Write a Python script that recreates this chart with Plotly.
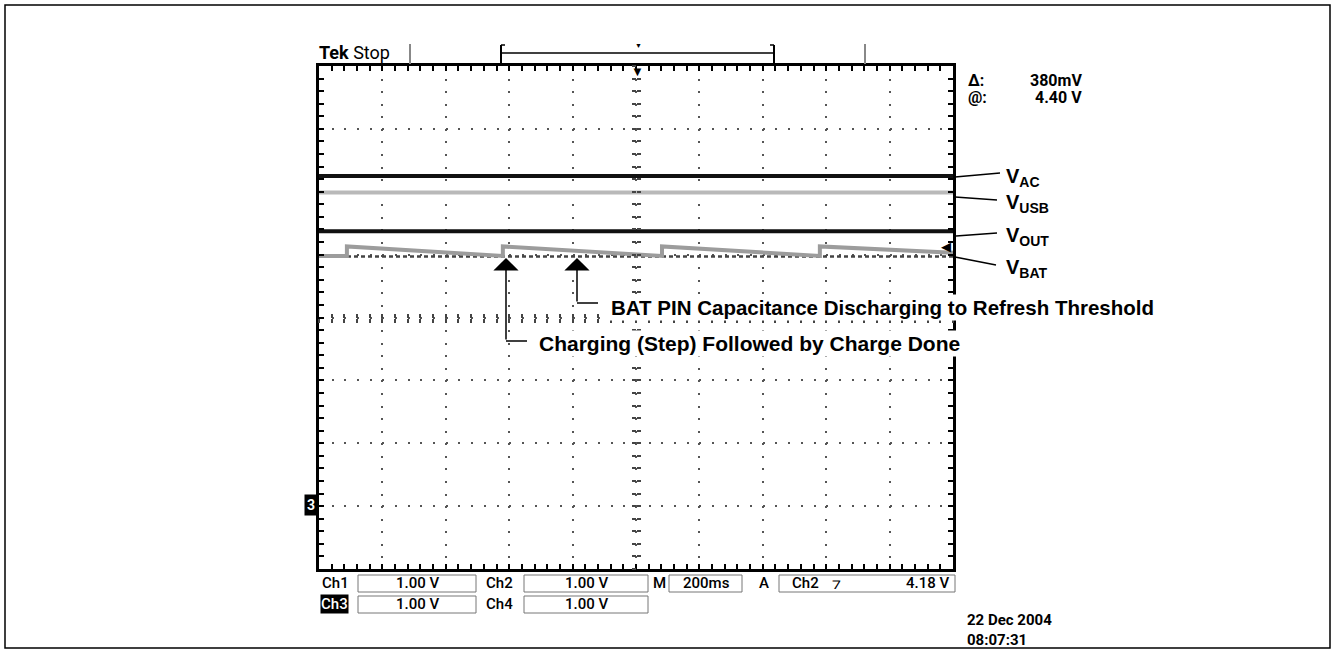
import plotly.graph_objects as go

# ---------------- data (time in ms, level in screen divisions from centre) ----------------
time_ms = [0, 2000]
v_ac = [2.25, 2.25]
v_usb = [1.99, 1.99]
v_out = [1.37, 1.37]
vbat_t = [0, 88, 88, 570, 580, 580, 1072, 1082, 1082, 1570, 1580, 1580, 2000]
vbat_v = [0.98, 0.98, 1.13, 0.99, 0.98, 1.13, 0.99, 0.98, 1.13, 0.99, 0.98, 1.13, 1.03]
vbat_floor_v = [0.97, 0.97]

trace_labels = ["V<sub>AC</sub>", "V<sub>USB</sub>", "V<sub>OUT</sub>", "V<sub>BAT</sub>"]
ch_scales = ["1.00 V", "1.00 V", "1.00 V", "1.00 V"]
timebase = "200ms"
trig_level = "4.18 V"
cursor_delta = "380mV"
cursor_at = "4.40 V"
date_txt = "22 Dec 2004"
time_txt = "08:07:31"

# ---------------- geometry ----------------
FW, FH = 1335, 653
L, R, T, B = 319, 953, 66, 569


def px(x):
    return (x - L) / (R - L)


def py(y):
    return (B - y) / (B - T)


fig = go.Figure()
fig.add_trace(go.Scatter(x=time_ms, y=v_ac, mode="lines", line=dict(color="#111", width=4), hoverinfo="skip"))
fig.add_trace(go.Scatter(x=time_ms, y=v_usb, mode="lines", line=dict(color="#b9b9b9", width=4), hoverinfo="skip"))
fig.add_trace(go.Scatter(x=time_ms, y=v_out, mode="lines", line=dict(color="#111", width=4), hoverinfo="skip"))
fig.add_trace(go.Scatter(x=time_ms, y=vbat_floor_v, mode="lines",
                         line=dict(color="#444", width=2.5, dash="4px,3px"), hoverinfo="skip"))
fig.add_trace(go.Scatter(x=vbat_t, y=vbat_v, mode="lines", line=dict(color="#9c9c9c", width=4), hoverinfo="skip"))

# dummy traces to activate the centre-cross axes
for xa, ya in [("x2", "y"), ("x3", "y"), ("x", "y2"), ("x", "y3")]:
    fig.add_trace(go.Scatter(x=[None], y=[None], xaxis=xa, yaxis=ya, showlegend=False, hoverinfo="skip"))

common_x = dict(range=[0, 2000], showticklabels=False, zeroline=False, fixedrange=True)
common_y = dict(range=[-4, 4], showticklabels=False, zeroline=False, fixedrange=True)

fig.update_layout(
    width=FW, height=FH, autosize=False,
    margin=dict(l=L, r=FW - R, t=T, b=FH - B, pad=0),
    paper_bgcolor="white", plot_bgcolor="white", showlegend=False,
    xaxis=dict(**common_x, tickmode="linear", tick0=0, dtick=200,
               showgrid=True, gridcolor="#555", gridwidth=1.8, griddash="2px,10.575px",
               showline=True, linecolor="black", linewidth=3, mirror="allticks",
               ticks="inside", ticklen=5, tickwidth=1.5, tickcolor="black",
               minor=dict(tick0=0, dtick=40, ticks="inside", ticklen=5, tickwidth=1.5,
                          tickcolor="black", showgrid=False)),
    yaxis=dict(**common_y, tickmode="linear", tick0=0, dtick=1,
               showgrid=True, gridcolor="#555", gridwidth=1.8, griddash="2px,10.68px",
               showline=True, linecolor="black", linewidth=3, mirror="allticks",
               ticks="inside", ticklen=5, tickwidth=1.5, tickcolor="black",
               minor=dict(tick0=0, dtick=0.2, ticks="inside", ticklen=5, tickwidth=1.5,
                          tickcolor="black", showgrid=False)),
    xaxis2=dict(**common_x, overlaying="x", anchor="free", position=py(318), tickmode="linear",
                tick0=0, dtick=40, ticks="inside", ticklen=4, tickwidth=1.5, tickcolor="#444",
                showgrid=False, showline=False),
    xaxis3=dict(**common_x, overlaying="x", anchor="free", position=py(318), tickmode="linear",
                tick0=0, dtick=40, ticks="outside", ticklen=4, tickwidth=1.5, tickcolor="#444",
                showgrid=False, showline=False),
    yaxis2=dict(**common_y, overlaying="y", anchor="free", position=px(636), tickmode="linear",
                tick0=0, dtick=0.2, ticks="inside", ticklen=4, tickwidth=1.5, tickcolor="#444",
                showgrid=False, showline=False),
    yaxis3=dict(**common_y, overlaying="y", anchor="free", position=px(636), tickmode="linear",
                tick0=0, dtick=0.2, ticks="outside", ticklen=4, tickwidth=1.5, tickcolor="#444",
                showgrid=False, showline=False),
)

shapes = []


def line(x0, y0, x1, y1, color="black", width=1.5):
    shapes.append(dict(type="line", xref="paper", yref="paper", x0=px(x0), y0=py(y0),
                       x1=px(x1), y1=py(y1), line=dict(color=color, width=width)))


def rect(x0, y0, x1, y1, color="#777", width=1):
    shapes.append(dict(type="rect", xref="paper", yref="paper", x0=px(x0), y0=py(y0),
                       x1=px(x1), y1=py(y1), line=dict(color=color, width=width)))


# outer border
rect(5, 5, 1330, 648, color="black", width=1.5)
# top bar
line(410, 44, 410, 64, color="#888", width=2)
line(865, 44, 865, 64, color="#888", width=2)
line(501, 53, 774, 53, width=1.5)
line(501, 45, 501, 64, width=2)
line(501, 45, 505, 45, width=1.5)
line(501, 64, 505, 64, width=1.5)
line(774, 45, 774, 64, width=2)
line(770, 45, 774, 45, width=1.5)
line(770, 64, 774, 64, width=1.5)
# leader lines for trace labels
line(955, 177, 1000, 173)
line(955, 197, 997, 200)
line(956, 236, 997, 233)
line(955, 257, 996, 265)
# callout stubs
line(506, 341, 527, 341)
line(577, 303, 598, 303)
# bottom readout boxes
for (x0, x1) in [(358, 476), (524, 648), (669, 742), (779, 955)]:
    rect(x0, 575, x1, 592)
for (x0, x1) in [(358, 476), (524, 648)]:
    rect(x0, 596, x1, 613)

annotations = []


def text(x, y, s, size=14, xanchor="left", family="Roboto", color="black", weight="normal", **kw):
    annotations.append(dict(x=px(x), y=py(y), xref="paper", yref="paper", text=s, showarrow=False,
                            xanchor=xanchor, yanchor="middle",
                            font=dict(size=size, family=family, color=color, weight=weight), **kw))


# header
text(317, 52, "<b>Tek</b> Stop", size=18)
text(638, 46, "▼", size=7, xanchor="center")
text(637, 71, "▼", size=13, xanchor="center")
# cursor readout
text(966, 80, "<b>Δ:</b>", size=16)
text(1084, 80, "<b>" + cursor_delta + "</b>", size=16, xanchor="right")
text(966, 97, "<b>@:</b>", size=16)
text(1084, 97, "<b>" + cursor_at + "</b>", size=16, xanchor="right")
# markers
text(946, 246, "◀", size=13, xanchor="center")
text(311, 505, "<b>3</b>", size=14, xanchor="center", color="white", bgcolor="black", borderpad=2)
# trace labels
for lab, yy in zip(trace_labels, [178, 204, 236, 268]):
    text(1004, yy, "<b>" + lab + "</b>", size=20, family="Liberation Sans")
# callout texts
text(609, 307, "<b>BAT PIN Capacitance Discharging to Refresh Threshold</b>", size=20.5,
     family="Liberation Sans", bgcolor="white", borderpad=1)
text(537, 343, "<b>Charging (Step) Followed by Charge Done</b>", size=21, family="Liberation Sans",
     bgcolor="white", borderpad=1)
# callout arrows
for xa, ytip, ytail in [(506, 258, 341), (577, 258, 303)]:
    annotations.append(dict(x=px(xa), y=py(ytip), xref="paper", yref="paper", ax=0, ay=ytail - ytip,
                            axref="pixel", ayref="pixel", showarrow=True, arrowhead=1,
                            arrowsize=2.8, arrowwidth=1.5, arrowcolor="black", text=""))
# bottom readout
W5 = 500
text(320, 583, "Ch1", size=15, weight=W5)
text(417, 583, ch_scales[0], size=15, xanchor="center", weight=W5)
text(484, 583, "Ch2", size=15, weight=W5)
text(586, 583, ch_scales[1], size=15, xanchor="center", weight=W5)
text(651, 583, "M", size=15, weight=W5)
text(706, 583, timebase, size=15, xanchor="center", weight=W5)
text(757, 583, "A", size=15, weight=W5)
text(790, 583, "Ch2", size=15, weight=W5)
text(836, 583, "⁊", size=16, xanchor="center", weight=W5)
text(951, 583, trig_level, size=15, xanchor="right", weight=W5)
text(320, 604, "Ch3", size=15, color="white", bgcolor="black", borderpad=0, weight=W5)
text(417, 604, ch_scales[2], size=15, xanchor="center", weight=W5)
text(484, 604, "Ch4", size=15, weight=W5)
text(586, 604, ch_scales[3], size=15, xanchor="center", weight=W5)
text(965, 630, "<b>" + date_txt + "<br>" + time_txt + "</b>", size=15, align="left")

fig.update_layout(shapes=shapes, annotations=annotations)

fig.write_html("out.html", config={"displayModeBar": False},
               post_script="document.body.style.margin='0';document.body.style.overflow='hidden';")
